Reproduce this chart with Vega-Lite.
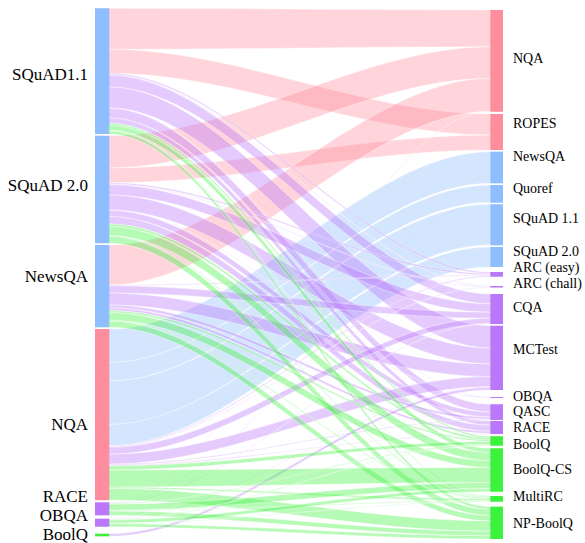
{
"$schema": "https://vega.github.io/schema/vega-lite/v6.json",
"width": 408, "height": 543,
"autosize": {"type": "none"},
"padding": {"left": 95, "right": 82, "top": 0, "bottom": 0},
"config": {"view": {"stroke": null}},
"datasets": {
"columns": [{"side": "L", "xa": 0, "xb": 0.035, "xs": [0, 0.035]}, {"side": "R", "xa": 0.969, "xb": 1, "xs": [0.969, 1]}],
"nodes": [
{"name": "SQuAD1.1", "side": "L", "cat": "ex", "y0": 8.3, "y1": 134, "ly": 75},
{"name": "SQuAD 2.0", "side": "L", "cat": "ex", "y0": 135.7, "y1": 243.3, "ly": 186},
{"name": "NewsQA", "side": "L", "cat": "ex", "y0": 245, "y1": 327.3, "ly": 277},
{"name": "NQA", "side": "L", "cat": "ab", "y0": 329, "y1": 500.3, "ly": 425},
{"name": "RACE", "side": "L", "cat": "mc", "y0": 502.3, "y1": 515.3, "ly": 497},
{"name": "OBQA", "side": "L", "cat": "mc", "y0": 518.7, "y1": 526.7, "ly": 516},
{"name": "BoolQ", "side": "L", "cat": "yn", "y0": 533.7, "y1": 536.3, "ly": 535},
{"name": "NQA", "side": "R", "cat": "ab", "y0": 10, "y1": 111.7, "ly": 59},
{"name": "ROPES", "side": "R", "cat": "ab", "y0": 114, "y1": 150, "ly": 124},
{"name": "NewsQA", "side": "R", "cat": "ex", "y0": 151.7, "y1": 183.3, "ly": 157},
{"name": "Quoref", "side": "R", "cat": "ex", "y0": 185, "y1": 202.7, "ly": 189},
{"name": "SQuAD 1.1", "side": "R", "cat": "ex", "y0": 204.3, "y1": 245.3, "ly": 219},
{"name": "SQuAD 2.0", "side": "R", "cat": "ex", "y0": 247, "y1": 267, "ly": 252},
{"name": "ARC (easy)", "side": "R", "cat": "mc", "y0": 272, "y1": 276.7, "ly": 268},
{"name": "ARC (chall)", "side": "R", "cat": "mc", "y0": 286, "y1": 287.5, "ly": 284},
{"name": "CQA", "side": "R", "cat": "mc", "y0": 294, "y1": 324, "ly": 308},
{"name": "MCTest", "side": "R", "cat": "mc", "y0": 325.7, "y1": 390, "ly": 350},
{"name": "OBQA", "side": "R", "cat": "mc", "y0": 397, "y1": 398, "ly": 397},
{"name": "QASC", "side": "R", "cat": "mc", "y0": 404.3, "y1": 420, "ly": 412},
{"name": "RACE", "side": "R", "cat": "mc", "y0": 421, "y1": 434, "ly": 428},
{"name": "BoolQ", "side": "R", "cat": "yn", "y0": 436.3, "y1": 445.7, "ly": 445},
{"name": "BoolQ-CS", "side": "R", "cat": "yn", "y0": 448.3, "y1": 491.7, "ly": 470},
{"name": "MultiRC", "side": "R", "cat": "yn", "y0": 496, "y1": 501.7, "ly": 497},
{"name": "NP-BoolQ", "side": "R", "cat": "yn", "y0": 506.7, "y1": 539, "ly": 524}
],
"links": [
{"link": "SQuAD1.1>NQA", "cat": "ab", "side": "L", "y0": 8.3, "y1": 49.3}, {"link": "SQuAD1.1>NQA", "cat": "ab", "side": "R", "y0": 10, "y1": 46.7},
{"link": "SQuAD1.1>ROPES", "cat": "ab", "side": "L", "y0": 49.3, "y1": 73.3}, {"link": "SQuAD1.1>ROPES", "cat": "ab", "side": "R", "y0": 114, "y1": 135},
{"link": "SQuAD2.0>NQA", "cat": "ab", "side": "L", "y0": 135.7, "y1": 168}, {"link": "SQuAD2.0>NQA", "cat": "ab", "side": "R", "y0": 46.7, "y1": 78.3},
{"link": "SQuAD2.0>ROPES", "cat": "ab", "side": "L", "y0": 168, "y1": 182.7}, {"link": "SQuAD2.0>ROPES", "cat": "ab", "side": "R", "y0": 135, "y1": 150},
{"link": "NewsQA>NQA", "cat": "ab", "side": "L", "y0": 245, "y1": 285}, {"link": "NewsQA>NQA", "cat": "ab", "side": "R", "y0": 78.3, "y1": 111.3},
{"link": "RACE>NQA", "cat": "ab", "side": "L", "y0": 502.3, "y1": 502.7}, {"link": "RACE>NQA", "cat": "ab", "side": "R", "y0": 111.3, "y1": 111.7},
{"link": "NQA>NewsQA", "cat": "ex", "side": "L", "y0": 329, "y1": 362.4}, {"link": "NQA>NewsQA", "cat": "ex", "side": "R", "y0": 151.7, "y1": 183.3},
{"link": "NQA>Quoref", "cat": "ex", "side": "L", "y0": 362.4, "y1": 381.1}, {"link": "NQA>Quoref", "cat": "ex", "side": "R", "y0": 185, "y1": 202.3},
{"link": "OBQA>Quoref", "cat": "ex", "side": "L", "y0": 518.7, "y1": 519.1}, {"link": "OBQA>Quoref", "cat": "ex", "side": "R", "y0": 202.3, "y1": 202.7},
{"link": "NQA>SQuAD1.1", "cat": "ex", "side": "L", "y0": 381.1, "y1": 424.5}, {"link": "NQA>SQuAD1.1", "cat": "ex", "side": "R", "y0": 204.3, "y1": 244.9},
{"link": "RACE>SQuAD1.1", "cat": "ex", "side": "L", "y0": 502.7, "y1": 503.1}, {"link": "RACE>SQuAD1.1", "cat": "ex", "side": "R", "y0": 244.9, "y1": 245.3},
{"link": "NQA>SQuAD2.0", "cat": "ex", "side": "L", "y0": 424.5, "y1": 445.7}, {"link": "NQA>SQuAD2.0", "cat": "ex", "side": "R", "y0": 247, "y1": 267},
{"link": "SQuAD1.1>ARCe", "cat": "mc", "side": "L", "y0": 73.3, "y1": 74.8}, {"link": "SQuAD1.1>ARCe", "cat": "mc", "side": "R", "y0": 272, "y1": 273.5},
{"link": "SQuAD1.1>ARCc", "cat": "mc", "side": "L", "y0": 74.8, "y1": 75.3}, {"link": "SQuAD1.1>ARCc", "cat": "mc", "side": "R", "y0": 286, "y1": 286.5},
{"link": "SQuAD1.1>CQA", "cat": "mc", "side": "L", "y0": 75.3, "y1": 87}, {"link": "SQuAD1.1>CQA", "cat": "mc", "side": "R", "y0": 294, "y1": 303.7},
{"link": "SQuAD1.1>MCTest", "cat": "mc", "side": "L", "y0": 87, "y1": 108}, {"link": "SQuAD1.1>MCTest", "cat": "mc", "side": "R", "y0": 325.7, "y1": 348},
{"link": "SQuAD1.1>OBQA", "cat": "mc", "side": "L", "y0": 108, "y1": 108.3}, {"link": "SQuAD1.1>OBQA", "cat": "mc", "side": "R", "y0": 397, "y1": 397.5},
{"link": "SQuAD1.1>QASC", "cat": "mc", "side": "L", "y0": 108.3, "y1": 118}, {"link": "SQuAD1.1>QASC", "cat": "mc", "side": "R", "y0": 404.3, "y1": 412},
{"link": "SQuAD1.1>RACE", "cat": "mc", "side": "L", "y0": 118, "y1": 123.3}, {"link": "SQuAD1.1>RACE", "cat": "mc", "side": "R", "y0": 421, "y1": 425.3},
{"link": "SQuAD2.0>ARCe", "cat": "mc", "side": "L", "y0": 182.7, "y1": 184.2}, {"link": "SQuAD2.0>ARCe", "cat": "mc", "side": "R", "y0": 273.5, "y1": 275},
{"link": "SQuAD2.0>ARCc", "cat": "mc", "side": "L", "y0": 184.2, "y1": 184.7}, {"link": "SQuAD2.0>ARCc", "cat": "mc", "side": "R", "y0": 286.5, "y1": 287},
{"link": "SQuAD2.0>CQA", "cat": "mc", "side": "L", "y0": 184.7, "y1": 195}, {"link": "SQuAD2.0>CQA", "cat": "mc", "side": "R", "y0": 303.7, "y1": 312.2},
{"link": "SQuAD2.0>MCTest", "cat": "mc", "side": "L", "y0": 195, "y1": 210}, {"link": "SQuAD2.0>MCTest", "cat": "mc", "side": "R", "y0": 348, "y1": 363.9},
{"link": "SQuAD2.0>OBQA", "cat": "mc", "side": "L", "y0": 210, "y1": 210.3}, {"link": "SQuAD2.0>OBQA", "cat": "mc", "side": "R", "y0": 397.5, "y1": 398},
{"link": "SQuAD2.0>QASC", "cat": "mc", "side": "L", "y0": 210.3, "y1": 216.7}, {"link": "SQuAD2.0>QASC", "cat": "mc", "side": "R", "y0": 412, "y1": 416.9},
{"link": "SQuAD2.0>RACE", "cat": "mc", "side": "L", "y0": 216.7, "y1": 224}, {"link": "SQuAD2.0>RACE", "cat": "mc", "side": "R", "y0": 425.3, "y1": 431.2},
{"link": "NewsQA>ARCe", "cat": "mc", "side": "L", "y0": 285, "y1": 285.8}, {"link": "NewsQA>ARCe", "cat": "mc", "side": "R", "y0": 275, "y1": 275.7},
{"link": "NewsQA>CQA", "cat": "mc", "side": "L", "y0": 285.8, "y1": 293}, {"link": "NewsQA>CQA", "cat": "mc", "side": "R", "y0": 312.2, "y1": 318.2},
{"link": "NewsQA>MCTest", "cat": "mc", "side": "L", "y0": 293, "y1": 305}, {"link": "NewsQA>MCTest", "cat": "mc", "side": "R", "y0": 363.9, "y1": 376.6},
{"link": "NewsQA>QASC", "cat": "mc", "side": "L", "y0": 305, "y1": 308}, {"link": "NewsQA>QASC", "cat": "mc", "side": "R", "y0": 416.9, "y1": 419.2},
{"link": "NewsQA>RACE", "cat": "mc", "side": "L", "y0": 308, "y1": 310.7}, {"link": "NewsQA>RACE", "cat": "mc", "side": "R", "y0": 431.2, "y1": 433.4},
{"link": "NQA>ARCe", "cat": "mc", "side": "L", "y0": 445.7, "y1": 446.7}, {"link": "NQA>ARCe", "cat": "mc", "side": "R", "y0": 275.7, "y1": 276.7},
{"link": "NQA>ARCc", "cat": "mc", "side": "L", "y0": 446.7, "y1": 447.2}, {"link": "NQA>ARCc", "cat": "mc", "side": "R", "y0": 287, "y1": 287.5},
{"link": "NQA>CQA", "cat": "mc", "side": "L", "y0": 447.2, "y1": 454.2}, {"link": "NQA>CQA", "cat": "mc", "side": "R", "y0": 318.2, "y1": 323.6},
{"link": "NQA>MCTest", "cat": "mc", "side": "L", "y0": 454.2, "y1": 464.2}, {"link": "NQA>MCTest", "cat": "mc", "side": "R", "y0": 376.6, "y1": 386.8},
{"link": "NQA>QASC", "cat": "mc", "side": "L", "y0": 464.2, "y1": 465.2}, {"link": "NQA>QASC", "cat": "mc", "side": "R", "y0": 419.2, "y1": 420},
{"link": "NQA>RACE", "cat": "mc", "side": "L", "y0": 465.2, "y1": 466}, {"link": "NQA>RACE", "cat": "mc", "side": "R", "y0": 433.4, "y1": 434},
{"link": "RACE>CQA", "cat": "mc", "side": "L", "y0": 503.1, "y1": 503.5}, {"link": "RACE>CQA", "cat": "mc", "side": "R", "y0": 323.6, "y1": 324},
{"link": "OBQA>MCTest", "cat": "mc", "side": "L", "y0": 519.1, "y1": 519.5}, {"link": "OBQA>MCTest", "cat": "mc", "side": "R", "y0": 386.8, "y1": 387.2},
{"link": "BoolQ>MCTest", "cat": "mc", "side": "L", "y0": 533.7, "y1": 536.3}, {"link": "BoolQ>MCTest", "cat": "mc", "side": "R", "y0": 387.2, "y1": 390},
{"link": "SQuAD1.1>BoolQ", "cat": "yn", "side": "L", "y0": 123.3, "y1": 125.3}, {"link": "SQuAD1.1>BoolQ", "cat": "yn", "side": "R", "y0": 436.3, "y1": 437.9},
{"link": "SQuAD1.1>BoolQ-CS", "cat": "yn", "side": "L", "y0": 125.3, "y1": 130.3}, {"link": "SQuAD1.1>BoolQ-CS", "cat": "yn", "side": "R", "y0": 448.3, "y1": 452.7},
{"link": "SQuAD1.1>MultiRC", "cat": "yn", "side": "L", "y0": 130.3, "y1": 131}, {"link": "SQuAD1.1>MultiRC", "cat": "yn", "side": "R", "y0": 496, "y1": 496.8},
{"link": "SQuAD1.1>NP-BoolQ", "cat": "yn", "side": "L", "y0": 131, "y1": 134}, {"link": "SQuAD1.1>NP-BoolQ", "cat": "yn", "side": "R", "y0": 506.7, "y1": 509.4},
{"link": "SQuAD2.0>BoolQ", "cat": "yn", "side": "L", "y0": 224, "y1": 226.5}, {"link": "SQuAD2.0>BoolQ", "cat": "yn", "side": "R", "y0": 437.9, "y1": 439.8},
{"link": "SQuAD2.0>BoolQ-CS", "cat": "yn", "side": "L", "y0": 226.5, "y1": 235.5}, {"link": "SQuAD2.0>BoolQ-CS", "cat": "yn", "side": "R", "y0": 452.7, "y1": 460.7},
{"link": "SQuAD2.0>MultiRC", "cat": "yn", "side": "L", "y0": 235.5, "y1": 236.5}, {"link": "SQuAD2.0>MultiRC", "cat": "yn", "side": "R", "y0": 496.8, "y1": 497.8},
{"link": "SQuAD2.0>NP-BoolQ", "cat": "yn", "side": "L", "y0": 236.5, "y1": 243.3}, {"link": "SQuAD2.0>NP-BoolQ", "cat": "yn", "side": "R", "y0": 509.4, "y1": 515.5},
{"link": "NewsQA>BoolQ", "cat": "yn", "side": "L", "y0": 310.7, "y1": 312.7}, {"link": "NewsQA>BoolQ", "cat": "yn", "side": "R", "y0": 439.8, "y1": 441.4},
{"link": "NewsQA>BoolQ-CS", "cat": "yn", "side": "L", "y0": 312.7, "y1": 320.3}, {"link": "NewsQA>BoolQ-CS", "cat": "yn", "side": "R", "y0": 460.7, "y1": 467.4},
{"link": "NewsQA>MultiRC", "cat": "yn", "side": "L", "y0": 320.3, "y1": 321.3}, {"link": "NewsQA>MultiRC", "cat": "yn", "side": "R", "y0": 497.8, "y1": 498.9},
{"link": "NewsQA>NP-BoolQ", "cat": "yn", "side": "L", "y0": 321.3, "y1": 327.3}, {"link": "NewsQA>NP-BoolQ", "cat": "yn", "side": "R", "y0": 515.5, "y1": 520.9},
{"link": "NQA>BoolQ", "cat": "yn", "side": "L", "y0": 466, "y1": 470}, {"link": "NQA>BoolQ", "cat": "yn", "side": "R", "y0": 441.4, "y1": 444.5},
{"link": "NQA>BoolQ-CS", "cat": "yn", "side": "L", "y0": 470, "y1": 487}, {"link": "NQA>BoolQ-CS", "cat": "yn", "side": "R", "y0": 467.4, "y1": 482.4},
{"link": "NQA>MultiRC", "cat": "yn", "side": "L", "y0": 487, "y1": 488.5}, {"link": "NQA>MultiRC", "cat": "yn", "side": "R", "y0": 498.9, "y1": 500.5},
{"link": "NQA>NP-BoolQ", "cat": "yn", "side": "L", "y0": 488.5, "y1": 500}, {"link": "NQA>NP-BoolQ", "cat": "yn", "side": "R", "y0": 520.9, "y1": 531.3},
{"link": "RACE>BoolQ", "cat": "yn", "side": "L", "y0": 503.5, "y1": 504.3}, {"link": "RACE>BoolQ", "cat": "yn", "side": "R", "y0": 444.5, "y1": 445.3},
{"link": "RACE>BoolQ-CS", "cat": "yn", "side": "L", "y0": 504.3, "y1": 510.4}, {"link": "RACE>BoolQ-CS", "cat": "yn", "side": "R", "y0": 482.4, "y1": 488.6},
{"link": "RACE>MultiRC", "cat": "yn", "side": "L", "y0": 510.4, "y1": 510.9}, {"link": "RACE>MultiRC", "cat": "yn", "side": "R", "y0": 500.5, "y1": 501.2},
{"link": "RACE>NP-BoolQ", "cat": "yn", "side": "L", "y0": 510.9, "y1": 515.3}, {"link": "RACE>NP-BoolQ", "cat": "yn", "side": "R", "y0": 531.3, "y1": 535.8},
{"link": "OBQA>BoolQ", "cat": "yn", "side": "L", "y0": 519.5, "y1": 520}, {"link": "OBQA>BoolQ", "cat": "yn", "side": "R", "y0": 445.3, "y1": 445.7},
{"link": "OBQA>BoolQ-CS", "cat": "yn", "side": "L", "y0": 520, "y1": 523.3}, {"link": "OBQA>BoolQ-CS", "cat": "yn", "side": "R", "y0": 488.6, "y1": 491.7},
{"link": "OBQA>MultiRC", "cat": "yn", "side": "L", "y0": 523.3, "y1": 523.7}, {"link": "OBQA>MultiRC", "cat": "yn", "side": "R", "y0": 501.2, "y1": 501.7},
{"link": "OBQA>NP-BoolQ", "cat": "yn", "side": "L", "y0": 523.7, "y1": 526.7}, {"link": "OBQA>NP-BoolQ", "cat": "yn", "side": "R", "y0": 535.8, "y1": 539}
]
},
"layer": [
{
"data": {"name": "links"},
"transform": [
{"lookup": "side", "from": {"data": {"name": "columns"}, "key": "side", "fields": ["xs"]}},
{"flatten": ["xs"]}
],
"mark": {"type": "area", "interpolate": "monotone", "fillOpacity": 0.38, "stroke": "#ffffff", "strokeWidth": 0.5, "strokeOpacity": 0.8},
"encoding": {
"x": {"field": "xs", "type": "quantitative", "scale": {"domain": [0, 1], "nice": false, "zero": false}, "axis": null},
"y": {"field": "y0", "type": "quantitative", "stack": null, "scale": {"domain": [0, 543], "reverse": true, "nice": false, "zero": false}, "axis": null},
"y2": {"field": "y1"},
"detail": {"field": "link"},
"color": {"field": "cat", "type": "nominal", "scale": {"domain": ["ab", "ex", "mc", "yn"], "range": ["#fe8e9d", "#8ebefd", "#bb77f9", "#3cf23c"]}, "legend": null}
}
},
{
"data": {"name": "nodes"},
"transform": [{"lookup": "side", "from": {"data": {"name": "columns"}, "key": "side", "fields": ["xa", "xb"]}}],
"layer": [
{
"mark": {"type": "rect"},
"encoding": {
"x": {"field": "xa", "type": "quantitative"},
"x2": {"field": "xb"},
"y": {"field": "y0", "type": "quantitative"},
"y2": {"field": "y1"},
"color": {"field": "cat", "type": "nominal", "legend": null}
}
},
{
"transform": [{"filter": "datum.side === 'L'"}],
"mark": {"type": "text", "align": "right", "baseline": "middle", "dx": -7, "font": "Liberation Serif, Times New Roman, DejaVu Serif, serif", "fontSize": 17, "color": "#000"},
"encoding": {
"x": {"field": "xa", "type": "quantitative"},
"y": {"field": "ly", "type": "quantitative"},
"text": {"field": "name"}
}
},
{
"transform": [{"filter": "datum.side === 'R'"}],
"mark": {"type": "text", "align": "left", "baseline": "middle", "dx": 10, "font": "Liberation Serif, Times New Roman, DejaVu Serif, serif", "fontSize": 14, "color": "#000"},
"encoding": {
"x": {"field": "xb", "type": "quantitative"},
"y": {"field": "ly", "type": "quantitative"},
"text": {"field": "name"}
}
}
]
}
]
}
